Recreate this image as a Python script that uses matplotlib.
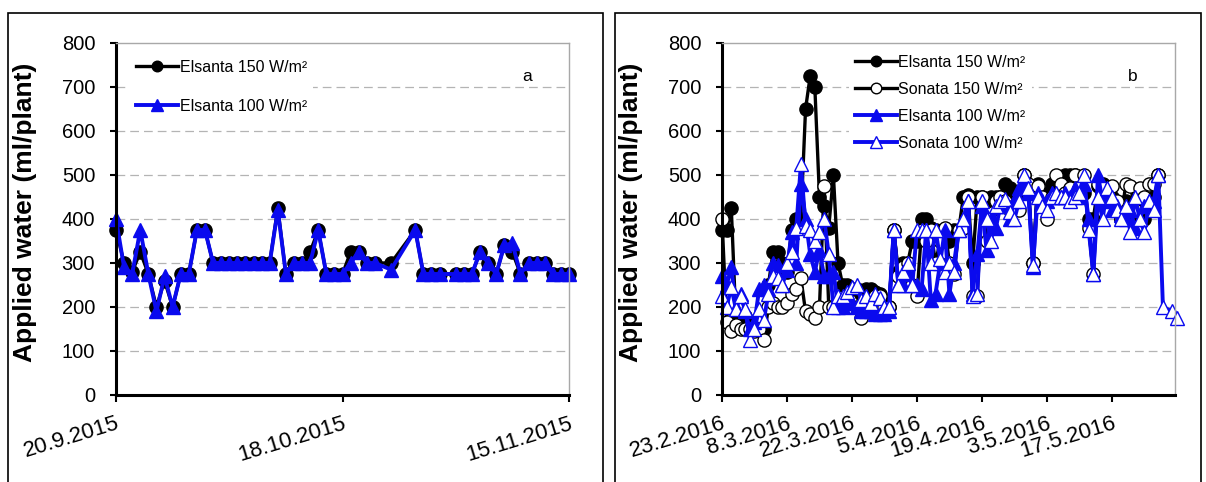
import numpy as np
import matplotlib.pyplot as plt
import matplotlib.dates as mdates
from matplotlib.patches import Rectangle

plt.rcParams['font.family'] = ['Liberation Sans', 'DejaVu Sans']

nan = np.nan

# --- panel a : autumn 2015 -------------------------------------------------
start_a = np.datetime64('2015-09-20')
ticks_a = ['2015-09-20', '2015-10-18', '2015-11-15']
ticklabels_a = ['20.9.2015', '18.10.2015', '15.11.2015']
days_a = [0, 1, 2, 3, 4, 5, 6, 7, 8, 9, 10, 11, 12, 13, 14, 15, 16, 17, 18, 19,
          20, 21, 22, 23, 24, 25, 26, 27, 28, 29, 30, 31, 32, 34, 37, 38, 39, 40,
          42, 43, 44, 45, 46, 47, 48, 49, 50, 51, 52, 53, 54, 55, 56]
elsanta150_a = [375, 300, 280, 325, 275, 200, 260, 200, 275, 275,
                375, 375, 300, 300, 300, 300, 300, 300, 300, 300,
                425, 275, 300, 300, 325, 375, 275, 275, 275, 325,
                325, 300, 300, 300, 375, 275, 275, 275,
                275, 275, 275, 325, 300, 275, 340, 325, 275, 300, 300, 300, 275, 275, 275]
elsanta100_a = [400, 290, 275, 375, 275, 190, 270, 200, 275, 275,
                375, 375, 300, 300, 300, 300, 300, 300, 300, 300,
                420, 275, 300, 300, 300, 375, 275, 275, 275, 300,
                325, 300, 300, 285, 375, 275, 275, 275,
                275, 275, 275, 325, 300, 275, 340, 345, 275, 300, 300, 300, 275, 275, 275]

# --- panel b : spring 2016 -------------------------------------------------
start_b = np.datetime64('2016-02-23')
ticks_b = ['2016-02-23', '2016-03-08', '2016-03-22', '2016-04-05',
           '2016-04-19', '2016-05-03', '2016-05-17']
ticklabels_b = ['23.2.2016', '8.3.2016', '22.3.2016', '5.4.2016',
                '19.4.2016', '3.5.2016', '17.5.2016']
days_b = list(range(0, 99))
elsanta150_b = [375, 375, 425, 170, 160, 180, 160, 150, 150, 150,
                250, 325, 325, 300, 280, 375, 400, 400, 650, 725,
                700, 450, 430, 380, 500, 300, 250, 250, 240, 240,
                230, 240, 240, 235, 230, 210, 200, 375, 280, 300,
                300, 350, 350, 400, 400, 380, 375, 370, 350, 350,
                375, 375, 450, 455, 300, 450, 450, 440, 450, 450,
                450, 480, 470, 450, 460, 500, 470, 300, 480, 460,
                450, 480, 480, 480, 500, 500, 500, 480, 460, 400,
                400, 475, 480, 460, 450, 420, 400, 440, 420, 400,
                420, 400, 430, 450, 500, nan, nan, nan, nan]
sonata150_b = [400, 165, 145, 160, 150, 150, 150, 145, 150, 125,
               200, 210, 200, 200, 210, 230, 240, 265, 190, 185,
               175, 200, 475, 200, 200, 200, 200, 200, 200, 200,
               175, 200, 220, 225, 225, 200, 200, 375, 270, 290,
               300, 250, 225, 375, 350, 375, 300, 350, 380, 300,
               275, 375, 380, 450, 225, 225, 450, 350, 400, 440,
               450, 440, 420, 430, 420, 500, 480, 300, 475, 450,
               400, 450, 500, 480, 460, 470, 500, 470, 500, 380,
               275, 480, 470, 450, 475, 440, 400, 480, 475, 420,
               470, 450, 480, 480, 500, nan, nan, nan, nan]
elsanta100_b = [270, 250, 290, 200, 230, 190, 150, 165, 240, 250,
                240, 300, 295, 250, 285, 370, 300, 480, 400, 320,
                280, 330, 270, 270, 280, 200, 200, 210, 210, 200,
                190, 190, 190, 185, 185, 185, 190, 375, 250, 250,
                275, 250, 250, 240, 375, 215, 230, 300, 375, 230,
                300, 375, 400, 440, 230, 320, 430, 330, 400, 380,
                430, 430, 400, 440, 470, 480, 460, 290, 460, 440,
                440, 460, 450, 450, 460, 450, 470, 450, 480, 400,
                275, 500, 440, 450, 420, 430, 410, 400, 420, 380,
                400, 430, 440, 440, 500, nan, nan, nan, nan]
sonata100_b = [225, 200, 245, 195, 225, 195, 125, 150, 195, 170,
               230, 270, 265, 250, 300, 325, 380, 525, 385, 375,
               350, 370, 400, 320, 200, 225, 225, 235, 245, 250,
               215, 225, 210, 230, 220, 200, 200, 375, 250, 280,
               300, 250, 375, 375, 375, 300, 375, 310, 280, 300,
               280, 375, 400, 440, 225, 230, 440, 400, 350, 430,
               440, 445, 415, 400, 440, 500, 470, 295, 450, 430,
               420, 450, 460, 450, 450, 440, 450, 460, 500, 375,
               275, 450, 400, 470, 450, 420, 400, 430, 370, 450,
               400, 370, 440, 420, 500, 200, nan, 190, 175]

yticks = [0, 100, 200, 300, 400, 500, 600, 700, 800]
blue = '#0a0aee'


def to_dates(start, days):
    return start + np.array(days).astype('timedelta64[D]')


def setup_axes(ax, start, span, ticks, labels, letter):
    x0 = mdates.date2num(start)
    ax.set_xlim(x0, x0 + span)
    ax.set_ylim(0, 800)
    ax.set_yticks(yticks)
    ax.set_xticks([mdates.date2num(np.datetime64(t)) for t in ticks])
    ax.set_xticklabels(labels, rotation=17, ha='right', va='top',
                       rotation_mode='anchor')
    ax.tick_params(axis='y', labelsize=14.5, direction='out', length=4,
                   width=1.5, pad=11)
    ax.tick_params(axis='x', labelsize=16, direction='out', length=5,
                   width=1.5, pad=8)
    for s in ['left', 'bottom']:
        ax.spines[s].set_linewidth(2.2)
        ax.spines[s].set_color('black')
    for s in ['top', 'right']:
        ax.spines[s].set_linewidth(1.0)
        ax.spines[s].set_color('#a8a8a8')
    for v in yticks[1:-1]:
        ax.axhline(v, color='#b4b4b4', lw=0.9, ls=(0, (7, 4)), zorder=0)
    ax.set_ylabel('Applied water (ml/plant)', fontsize=19, fontweight='bold')
    ax.yaxis.set_label_coords(-0.175, 0.52)
    ax.text(0.907, 0.906, letter, transform=ax.transAxes, fontsize=12.5,
            ha='center', va='center')


fig = plt.figure(figsize=(12.06, 4.82), dpi=100)

# outer frames around both panels
fig.add_artist(Rectangle((8 / 1206, -0.05), 595 / 1206, 1.05 - 13 / 482,
                         transform=fig.transFigure, fill=False, lw=1.2,
                         ec='black'))
fig.add_artist(Rectangle((615 / 1206, -0.05), 586 / 1206, 1.05 - 13 / 482,
                         transform=fig.transFigure, fill=False, lw=1.2,
                         ec='black'))

ax_a = fig.add_axes([116 / 1206, 1 - 395 / 482, 453 / 1206, 352 / 482])
ax_b = fig.add_axes([722 / 1206, 1 - 395 / 482, 453 / 1206, 352 / 482])

# panel a
xa = to_dates(start_a, days_a)
ax_a.plot(xa, elsanta150_a, '-o', color='black', lw=2.4, ms=9.5,
          mfc='black', mec='black', label='Elsanta 150 W/m²', clip_on=False)
ax_a.plot(xa, elsanta100_a, '-^', color=blue, lw=2.8, ms=10,
          mfc=blue, mec=blue, label='Elsanta 100 W/m²', clip_on=False)
setup_axes(ax_a, start_a, 56, ticks_a, ticklabels_a, 'a')
ax_a.legend(loc='upper left', bbox_to_anchor=(0.031, 0.97), fontsize=11.5,
            frameon=True, facecolor='white', edgecolor='none', framealpha=1,
            labelspacing=1.5, handlelength=2.6, handletextpad=0.1,
            markerscale=0.8, borderaxespad=0)

# panel b
xb = to_dates(start_b, days_b)
ax_b.plot(xb, elsanta150_b, '-o', color='black', lw=2.4, ms=9.5,
          mfc='black', mec='black', label='Elsanta 150 W/m²', clip_on=False)
ax_b.plot(xb, sonata150_b, '-o', color='black', lw=2.4, ms=9.5,
          mfc='white', mec='black', mew=1.0, label='Sonata 150 W/m²',
          clip_on=False)
ax_b.plot(xb, elsanta100_b, '-^', color=blue, lw=2.8, ms=10,
          mfc=blue, mec=blue, label='Elsanta 100 W/m²', clip_on=False)
mask = ~np.isnan(np.array(sonata100_b, dtype=float))
ax_b.plot(xb[mask], np.array(sonata100_b)[mask], '-^', color=blue, lw=2.8,
          ms=10, mfc='white', mec=blue, mew=1.0, label='Sonata 100 W/m²',
          clip_on=False)
setup_axes(ax_b, start_b, 97.6, ticks_b, ticklabels_b, 'b')
ax_b.legend(loc='upper left', bbox_to_anchor=(0.28, 0.985), fontsize=11.5,
            frameon=True, facecolor='white', edgecolor='none', framealpha=1,
            labelspacing=0.75, handlelength=2.6, handletextpad=0.1,
            markerscale=0.8, borderaxespad=0)

fig.savefig('out.png', dpi=100)
